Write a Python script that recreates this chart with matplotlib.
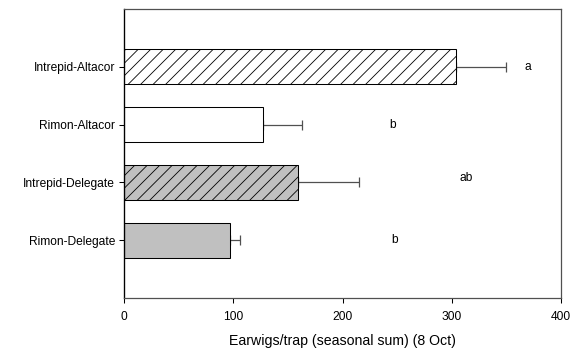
import numpy as np
import matplotlib.pyplot as plt

plt.rcParams['font.family'] = ['Liberation Sans', 'DejaVu Sans']
plt.rcParams['hatch.linewidth'] = 0.8

treatments = ['Intrepid-Altacor', 'Rimon-Altacor', 'Intrepid-Delegate', 'Rimon-Delegate']
means = [304, 127, 159, 97]
se = [46, 36, 56, 9]
letters = ['a', 'b', 'ab', 'b']
letter_x = [370, 246, 313, 248]
letter_dy = [0, 0, 0.07, 0]

colors = ['white', 'white', '#c0c0c0', '#c0c0c0']
hatches = ['//', '', '//', '']

DPI = 75
fig = plt.figure(figsize=(573 / DPI, 350 / DPI), dpi=DPI)
ax = fig.add_axes([124 / 573, 1 - 298 / 350, (561 - 124) / 573, (298 - 9) / 350])

ypos = np.arange(len(treatments))[::-1] + 1
for y, m, e, c, h in zip(ypos, means, se, colors, hatches):
    ax.barh(y, m, height=0.6, color=c, edgecolor='black', linewidth=1.0, hatch=h, zorder=2)
    ax.errorbar(m, y, xerr=[[0], [e]], fmt='none', ecolor='#505050', elinewidth=1.2,
                capsize=5, capthick=1.2, zorder=1)

for y, lx, dy, t in zip(ypos, letter_x, letter_dy, letters):
    ax.text(lx, y + dy, t, ha='center', va='center', fontsize=11.5)

ax.set_xlim(0, 400)
ax.set_ylim(0, 5)
ax.set_xticks([0, 100, 200, 300, 400])
ax.set_yticks(ypos)
ax.set_yticklabels(treatments)
ax.tick_params(axis='both', labelsize=11.5, length=5, width=1, direction='out')
ax.tick_params(axis='x', pad=7)
ax.set_xlabel('Earwigs/trap (seasonal sum) (8 Oct)', fontsize=13.5, labelpad=11)

ax.spines['left'].set_linewidth(1.3)
for s in ['top', 'right', 'bottom']:
    ax.spines[s].set_color('#505050')
    ax.spines[s].set_linewidth(1.2)

fig.savefig('out.png', dpi=DPI)
